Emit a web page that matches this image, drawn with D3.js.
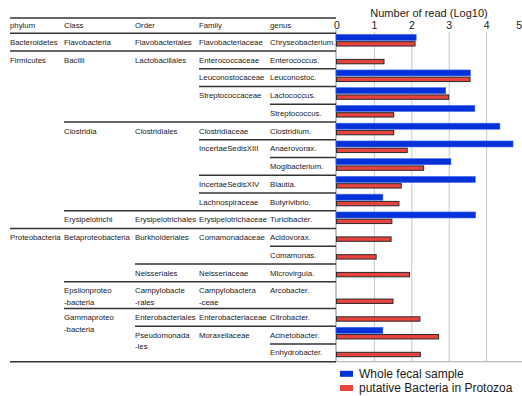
<!DOCTYPE html>
<html>
<head>
<meta charset="utf-8">
<script src="https://cdn.jsdelivr.net/npm/d3@7"></script>
<style>
  body { margin: 0; background: #fff; }
  svg { display: block; }
  text { font-family: "Liberation Sans", Arial, Helvetica, sans-serif; fill: #1a1a1a; }
</style>
</head>
<body>
<svg id="chart" width="522" height="396"></svg>
<script>
// Taxonomy table: an empty string means the group above continues
const headers = ["phylum", "Class", "Order", "Family", "genus"];
const phyla = ["Bacteroidetes", "Firmicutes", "", "", "", "", "", "", "", "", "",
  "Proteobacteria", "", "", "", "", "", ""];
const classes = ["Flavobacteria", "Bacilli", "", "", "", "Clostridia", "", "", "", "",
  "Erysipelotrichi", "Betaproteobacteria", "", "", "Epsilonproteo\n-bacteria",
  "Gammaproteo\n-bacteria", "", ""];
const orders = ["Flavobacteriales", "Lactobacillales", "", "", "", "Clostridiales", "", "", "", "",
  "Erysipelotrichales", "Burkholderiales", "", "Neisseriales", "Campylobacte\n-rales",
  "Enterobacteriales", "Pseudomonada\n-les", ""];
const families = ["Flavobacteriaceae", "Enterococcaceae", "Leuconostocaceae", "Streptococcaceae", "",
  "Clostridiaceae", "IncertaeSedisXIII", "", "IncertaeSedisXIV", "Lachnospiraceae",
  "Erysipelotrichaceae", "Comamonadaceae", "", "Neisseriaceae", "Campylobactera\n-ceae",
  "Enterobacteriaceae", "Moraxellaceae", ""];
const genera = ["Chryseobacterium.", "Enterococcus.", "Leuconostoc.", "Lactococcus.", "Streptococcus.",
  "Clostridium.", "Anaerovorax.", "Mogibacterium.", "Blautia.", "Butyrivibrio.", "Turicibacter.",
  "Acidovorax.", "Comamonas.", "Microvirgula.", "Arcobacter.", "Citrobacter.", "Acinetobacter.",
  "Enhydrobacter."];

// Number of reads (log10); null = not detected
const wholeFecal = [2.13, null, 3.58, 2.92, 3.70, 4.37, 4.72, 3.06, 3.71, 1.24, 3.72,
  null, null, null, null, null, 1.24, null];
const protozoa = [2.10, 1.27, 3.57, 3.00, 1.53, 1.53, 1.89, 2.33, 1.73, 1.67, 1.48,
  1.46, 1.06, 1.95, 1.51, 2.23, 2.73, 2.24];

const axisTicks = [0, 1, 2, 3, 4, 5];
const axisTitle = "Number of read (Log10)";
const seriesNames = ["Whole fecal sample", "putative Bacteria in Protozoa"];
const seriesColors = ["#0532d8", "#e8433f"];

// ---- layout ----
const svg = d3.select("#chart");
const levels = [phyla, classes, orders, families, genera];
const colX = [10, 64, 135, 199, 270];
const tableTop = 18, headerBottom = 33.3, tableBottom = 361.7, tableRight = 336;
const lineGap = 11.7;
const labelSize = 7.8;
const n = genera.length;

// span of a label: rows until a new entry at the same or a higher level
function span(level, i) {
  let s = 1;
  for (let j = i + 1; j < n; j++) {
    let fresh = false;
    for (let l = 0; l <= level; l++) if (levels[l][j] !== "") fresh = true;
    if (fresh) break;
    s++;
  }
  return s;
}

// a row grows when a single-row label wraps onto two lines
const rowUnits = genera.map((g, i) => {
  let u = 1;
  levels.forEach((arr, l) => {
    const t = arr[i];
    if (t && span(l, i) === 1) u = Math.max(u, 1 + (t.split("\n").length - 1) * 0.5);
  });
  return u;
});
const cum = [0];
rowUnits.forEach(u => cum.push(cum[cum.length - 1] + u));
const y = d3.scaleLinear().domain([0, cum[n]]).range([headerBottom, tableBottom]);
const rowTop = i => y(cum[i]);
const rowBottom = i => y(cum[i + 1]);

const x = d3.scaleLinear().domain([0, 5]).range([336.5, 523.5]);

// ---- grid and axes ----
const grid = svg.append("g").attr("transform", `translate(0,${tableBottom})`)
  .call(d3.axisBottom(x).tickValues(axisTicks.slice(1)).tickSize(-(tableBottom - 32)).tickFormat(""));
grid.select(".domain").remove();
grid.selectAll(".tick line").attr("stroke", "#c6c6c6").attr("stroke-width", 1);

svg.append("line").attr("x1", x(0)).attr("x2", 522).attr("y1", tableBottom).attr("y2", tableBottom)
  .attr("stroke", "#a8a8a8").attr("stroke-width", 1);
svg.append("line").attr("x1", tableRight).attr("x2", tableRight).attr("y1", 30).attr("y2", tableBottom)
  .attr("stroke", "#8a8a8a").attr("stroke-width", 1);

const axisTop = svg.append("g").attr("transform", "translate(0,32)")
  .call(d3.axisTop(x).tickValues(axisTicks).tickSize(0).tickPadding(2.7).tickFormat(d3.format("d")));
axisTop.select(".domain").remove();
axisTop.selectAll("text").attr("font-size", 10.5).attr("fill", "#1a1a1a")
  .style("font-family", "\"Liberation Sans\", Arial, sans-serif");
// keep the last tick label inside the page edge
axisTop.selectAll(".tick").filter(d => x(d) > 518).select("text")
  .attr("text-anchor", "end").attr("x", d => 521.5 - x(d));

svg.append("text").attr("x", 429).attr("y", 17).attr("text-anchor", "middle")
  .attr("font-size", 11).text(axisTitle);

// ---- table ----
const table = svg.append("g");
const hline = (x1, yy) => table.append("line").attr("x1", x1).attr("x2", tableRight)
  .attr("y1", yy).attr("y2", yy).attr("stroke", "#333").attr("stroke-width", 1.4);

hline(colX[0], tableTop);
hline(colX[0], headerBottom);
hline(colX[0], tableBottom);
for (let i = 1; i < n; i++) {
  const lvl = levels.findIndex(arr => arr[i] !== "");
  hline(colX[lvl], rowTop(i));
}

headers.forEach((h, l) => {
  table.append("text").attr("x", colX[l]).attr("y", tableTop + 10).attr("font-size", labelSize).text(h);
});

levels.forEach((arr, l) => {
  arr.forEach((t, i) => {
    if (!t) return;
    const txt = table.append("text").attr("x", colX[l]).attr("y", rowTop(i) + 11.5).attr("font-size", labelSize);
    t.split("\n").forEach((part, k) => {
      txt.append("tspan").attr("x", colX[l]).attr("dy", k === 0 ? 0 : lineGap).text(part);
    });
  });
});

// ---- bars ----
const bars = svg.append("g");
const split = i => rowBottom(i) - 10.4;

bars.selectAll("rect.fecal").data(wholeFecal.map((v, i) => ({ v, i })).filter(d => d.v !== null))
  .join("rect").attr("class", "fecal")
  .attr("x", x(0) - 0.5).attr("y", d => split(d.i) - 6.2)
  .attr("width", d => x(d.v) - x(0) + 0.5).attr("height", 6)
  .attr("fill", seriesColors[0]).attr("stroke", "#3d63ee").attr("stroke-width", 0.6);

bars.selectAll("rect.proto").data(protozoa.map((v, i) => ({ v, i })).filter(d => d.v !== null))
  .join("rect").attr("class", "proto")
  .attr("x", x(0)).attr("y", d => split(d.i) + 1)
  .attr("width", d => x(d.v) - x(0)).attr("height", 4.4)
  .attr("fill", seriesColors[1]).attr("stroke", "#2a2a2a").attr("stroke-width", 1);

// ---- legend ----
const legend = svg.append("g");
seriesNames.forEach((name, k) => {
  legend.append("rect").attr("x", 340).attr("y", 370.8 + k * 14.2).attr("width", 13).attr("height", 6)
    .attr("fill", seriesColors[k]);
  legend.append("text").attr("x", 359).attr("y", 377.8 + k * 14.2).attr("font-size", 12).text(name);
});
</script>
</body>
</html>
